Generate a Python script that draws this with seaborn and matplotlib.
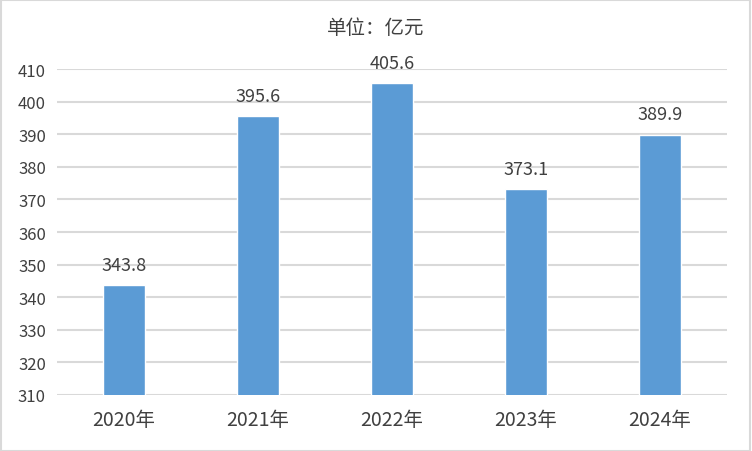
import matplotlib
matplotlib.use("Agg")
import matplotlib.pyplot as plt
import seaborn as sns
import pandas as pd
from matplotlib.patches import Rectangle

years = ["2020年", "2021年", "2022年", "2023年", "2024年"]
values = [343.8, 395.6, 405.6, 373.1, 389.9]
yticks = [310, 320, 330, 340, 350, 360, 370, 380, 390, 400, 410]
title = "单位：亿元"

sns.set_theme(style="white")
plt.rcParams['font.family'] = ['Noto Sans CJK SC', 'DejaVu Sans']

df = pd.DataFrame({"year": years, "value": values})
fig = plt.figure(figsize=(7.52, 4.52), dpi=100)
ax = fig.add_axes([0.0758, 0.124, 0.891, 0.721])

sns.barplot(data=df, x="year", y="value", color="#5B9BD5", saturation=1,
            width=0.31, ax=ax, zorder=3)
ax.set_ylim(310, 410)
ax.set_yticks(yticks)
ax.set_yticklabels([str(t) for t in yticks])
ax.set_xlim(-0.5, len(years) - 0.5)
ax.grid(axis="y", color="#d9d9d9", linewidth=1.5, zorder=0)
for s in ax.spines.values():
    s.set_visible(False)
ax.set_xlabel("")
ax.set_ylabel("")
ax.tick_params(axis="y", length=0, labelsize=12, colors="#404040", pad=8)
ax.tick_params(axis="x", length=0, labelsize=14, colors="#404040", pad=10)

for i, v in enumerate(values):
    ax.text(i, v + 3.4, f"{v:.1f}", ha="center", va="bottom", fontsize=13, color="#404040")

fig.text(0.5, 0.936, title, ha="center", va="center", fontsize=14, color="#404040")
fig.patches.append(Rectangle((0.001, 0.001), 0.997, 0.997, transform=fig.transFigure,
                             fill=False, edgecolor="#d9d9d9", linewidth=1.5))
fig.savefig("out.png", dpi=100)
